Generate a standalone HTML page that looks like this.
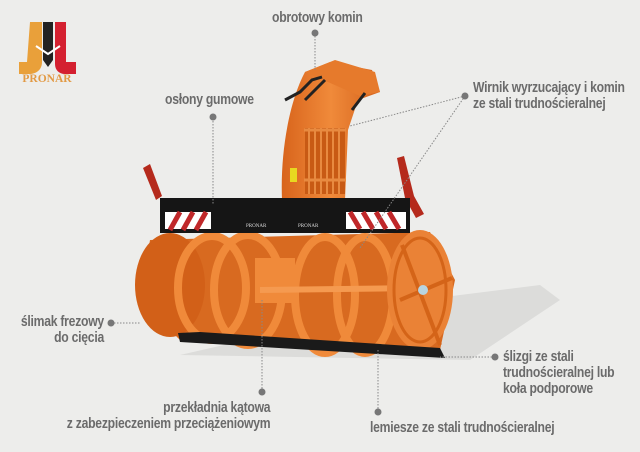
<!DOCTYPE html>
<html><head><meta charset="utf-8">
<style>
html,body{margin:0;padding:0;background:#ededeb;}
.w{position:relative;width:640px;height:452px;overflow:hidden;background:#ededeb;font-family:"Liberation Sans Narrow","Liberation Sans",sans-serif;}
.t{position:absolute;color:#6b6b6b;font-weight:bold;font-size:14.5px;line-height:16px;white-space:nowrap;letter-spacing:-0.3px;transform:scaleX(0.84);transform-origin:left top;}
.r{transform-origin:right top;text-align:right;}
</style></head><body><div class="w">
<svg width="640" height="452" style="position:absolute;left:0;top:0">
<defs>
<linearGradient id="o" x1="0" x2="1"><stop offset="0" stop-color="#d8641c"/><stop offset="0.5" stop-color="#f08a3a"/><stop offset="1" stop-color="#d4621c"/></linearGradient>
</defs>
<path d="M30 22h12v40c0 8-6 12-13 12h-10v-12h8z" fill="#e9a03a"/>
<path d="M43 22h10v38l-5 7-5-7z" fill="#222"/>
<path d="M55 22h11v40h10v12h-11c-6 0-10-4-10-10z" fill="#d42030"/>
<path d="M36 46l12 8 12-8" stroke="#fff" stroke-width="2" fill="none"/>
<text x="47" y="82" text-anchor="middle" font-family="Liberation Serif,serif" font-weight="bold" font-size="11.5" fill="#e29a45">PRONAR</text>
<path d="M420 300 L540 285 L560 300 L470 360 L180 355 Z" fill="#dcdcda"/>
<path d="M282 200 C280 150 290 100 305 72 L330 62 L372 70 L380 92 L358 100 L348 130 L345 200 Z" fill="url(#o)"/>
<path d="M305 72 L335 60 L375 72 L380 92 L360 96 Z" fill="#e67a2c"/>
<rect x="305" y="128" width="40" height="66" fill="#c85a14"/>
<g stroke="#e88a40" stroke-width="2"><line x1="309" y1="128" x2="309" y2="194"/><line x1="315" y1="128" x2="315" y2="194"/><line x1="321" y1="128" x2="321" y2="194"/><line x1="327" y1="128" x2="327" y2="194"/><line x1="333" y1="128" x2="333" y2="194"/><line x1="339" y1="128" x2="339" y2="194"/></g>
<line x1="304" y1="130" x2="346" y2="130" stroke="#e88a40" stroke-width="3"/>
<line x1="304" y1="180" x2="346" y2="180" stroke="#e88a40" stroke-width="3"/>
<rect x="290" y="168" width="7" height="14" fill="#e8d820"/>
<path d="M285 100 L300 92 L312 80 L322 77" stroke="#222" stroke-width="3" fill="none"/>
<path d="M305 100 L325 80" stroke="#222" stroke-width="3" fill="none"/>
<path d="M352 110 L365 93" stroke="#222" stroke-width="3" fill="none"/>
<path d="M143 168 L150 164 L162 196 L156 200 Z" fill="#b52a1c"/>
<path d="M397 158 L404 156 L414 196 L424 214 L416 218 L405 198 Z" fill="#b52a1c"/>
<path d="M150 240 L430 232 L455 280 L440 350 L180 340 L140 300 Z" fill="#d86a20"/>
<ellipse cx="170" cy="285" rx="35" ry="52" fill="#d26018"/>
<g fill="none" stroke="#f08a3a" stroke-width="8">
<ellipse cx="212" cy="288" rx="34" ry="52"/>
<ellipse cx="248" cy="290" rx="34" ry="55"/>
<ellipse cx="325" cy="295" rx="30" ry="58"/>
<ellipse cx="365" cy="295" rx="28" ry="58"/>
</g>
<rect x="255" y="258" width="40" height="45" fill="#f08a3a"/>
<line x1="260" y1="290" x2="420" y2="288" stroke="#f59a50" stroke-width="6"/>
<ellipse cx="420" cy="290" rx="33" ry="60" fill="#ea8236"/>
<ellipse cx="420" cy="290" rx="26" ry="52" fill="none" stroke="#d46418" stroke-width="3"/>
<line x1="402" y1="245" x2="440" y2="345" stroke="#d46418" stroke-width="4"/>
<line x1="400" y1="300" x2="452" y2="278" stroke="#d46418" stroke-width="4"/>
<circle cx="423" cy="290" r="5" fill="#b8d4e0"/>
<path d="M178 333 L200 332 L440 348 L445 358 L180 342 Z" fill="#1a1a1a"/>
<rect x="160" y="198" width="250" height="35" fill="#151515"/>
<rect x="165" y="212" width="46" height="17" fill="#fff"/>
<g stroke="#c0282a" stroke-width="5"><line x1="170" y1="230" x2="180" y2="212"/><line x1="183" y1="230" x2="193" y2="212"/><line x1="196" y1="230" x2="206" y2="212"/></g>
<rect x="346" y="212" width="60" height="17" fill="#fff"/>
<g stroke="#c0282a" stroke-width="5"><line x1="350" y1="212" x2="360" y2="229"/><line x1="363" y1="212" x2="373" y2="229"/><line x1="376" y1="212" x2="386" y2="229"/><line x1="389" y1="212" x2="399" y2="229"/></g>
<text x="246" y="227" font-size="5" fill="#ddd" font-family="Liberation Serif,serif">PRONAR</text>
<text x="298" y="227" font-size="5" fill="#ddd" font-family="Liberation Serif,serif">PRONAR</text>
<g stroke="#888" stroke-width="1" stroke-dasharray="1.5 1.5" fill="none">
<line x1="315" y1="33" x2="315" y2="70"/>
<line x1="213" y1="118" x2="213" y2="205"/>
<line x1="465" y1="96" x2="350" y2="126"/>
<line x1="465" y1="96" x2="360" y2="248"/>
<line x1="111" y1="323" x2="140" y2="323"/>
<line x1="495" y1="357" x2="440" y2="357"/>
<line x1="262" y1="300" x2="262" y2="392"/>
<line x1="378" y1="350" x2="378" y2="410"/>
</g>
<g fill="#777">
<circle cx="315" cy="33" r="3.5"/><circle cx="213" cy="117" r="3.5"/><circle cx="465" cy="96" r="3.5"/>
<circle cx="111" cy="323" r="3.5"/><circle cx="495" cy="357" r="3.5"/><circle cx="262" cy="392" r="3.5"/><circle cx="378" cy="412" r="3.5"/>
</g>
</svg>
<div class="t" style="left:272px;top:10px">obrotowy komin</div>
<div class="t" style="left:165px;top:92px">osłony gumowe</div>
<div class="t" style="left:473px;top:80px">Wirnik wyrzucający i komin<br>ze stali trudnościeralnej</div>
<div class="t r" style="right:536px;top:314px">ślimak frezowy<br>do cięcia</div>
<div class="t" style="left:503px;top:349px">ślizgi ze stali<br>trudnościeralnej lub<br>koła podporowe</div>
<div class="t r" style="right:370px;top:400px">przekładnia kątowa<br>z zabezpieczeniem przeciążeniowym</div>
<div class="t" style="left:370px;top:420px">lemiesze ze stali trudnościeralnej</div>
</div></body></html>
